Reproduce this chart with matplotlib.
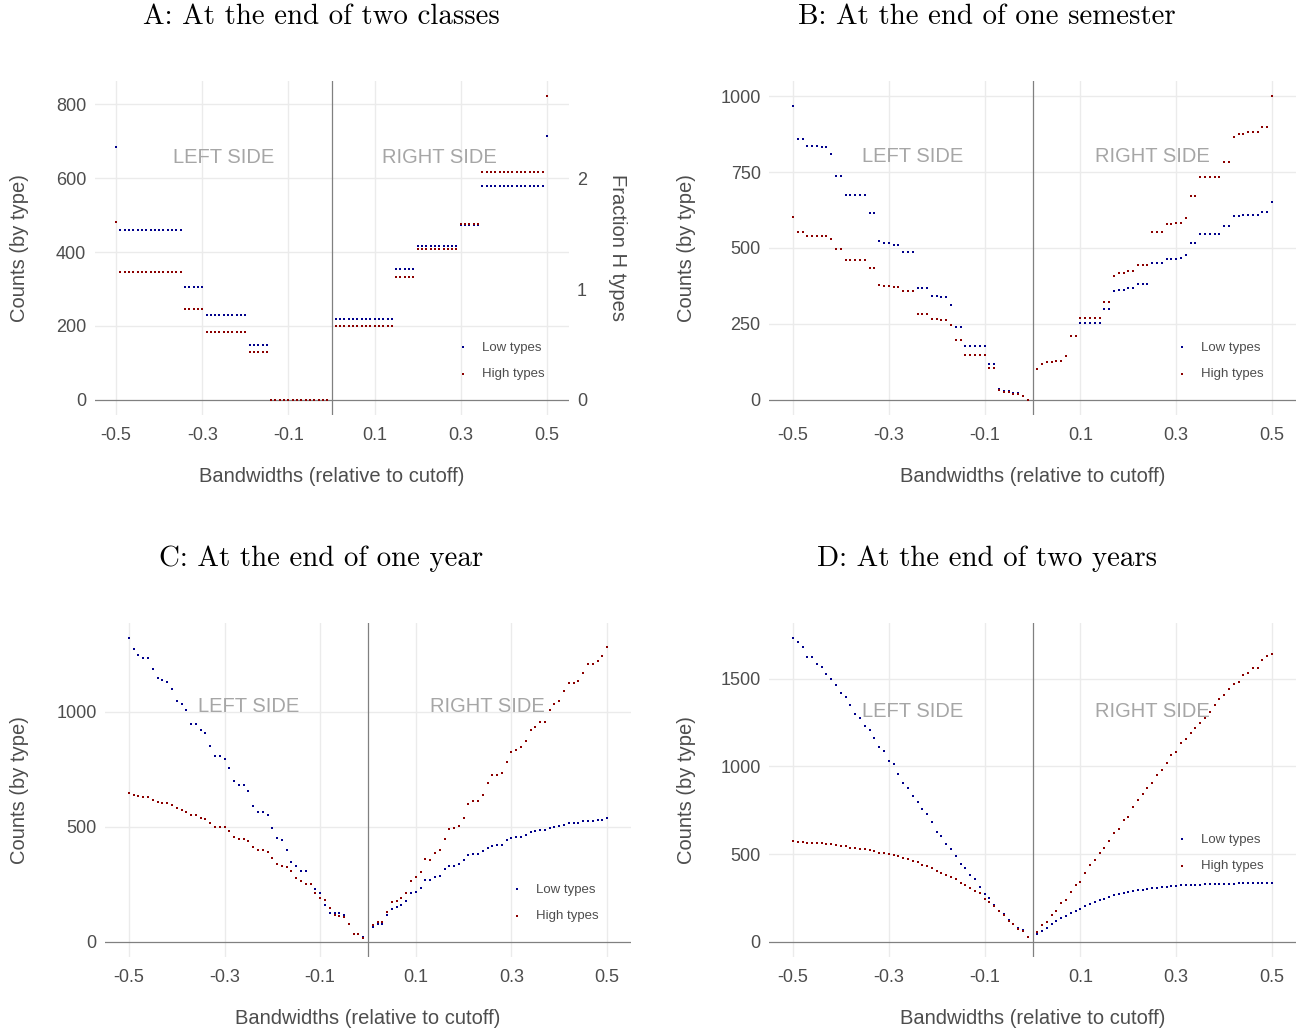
import numpy as np
import matplotlib
matplotlib.use('Agg')
import matplotlib.pyplot as plt

plt.rcParams['font.family'] = ['Liberation Sans', 'DejaVu Sans']
plt.rcParams['axes.unicode_minus'] = False

# bandwidth grid on each side of the cutoff
bw_left = np.round(np.arange(-0.50, -0.005, 0.01), 2)
bw_right = np.round(np.arange(0.01, 0.505, 0.01), 2)

# A: two classes
a_low_left = [685] + [461] * 15 + [306] * 5 + [230] * 10 + [149] * 5 + [0] * 14
a_high_left = [482] + [347] * 15 + [245] * 5 + [184] * 10 + [129] * 5 + [0] * 14
a_low_right = [219] * 14 + [355] * 5 + [416] * 10 + [473] * 5 + [579] * 15 + [713]
a_high_right = [200] * 14 + [333] * 5 + [407] * 10 + [475] * 5 + [616] * 15 + [822]

# B: one semester
b_low_left = ([967] + [859] * 2 + [836] * 3 + [832] * 2 + [810] + [737] * 2 + [675] * 5
              + [616] * 2 + [523] + [516] * 2 + [511] * 2 + [486] * 3 + [368] * 3
              + [342] * 2 + [337] * 2 + [313] + [239] * 2 + [178] * 5 + [118] * 2
              + [34] + [28] * 2 + [21] * 2 + [13] + [0])
b_high_left = ([602] + [554] * 2 + [540] * 5 + [531] + [497] * 2 + [462] * 5 + [434] * 2
               + [379] + [375] * 2 + [371] * 2 + [359] * 3 + [283] * 3 + [266] * 2
               + [263] * 2 + [247] + [196] * 2 + [146] * 5 + [106] * 2 + [32] + [26] * 2
               + [19] * 2 + [11] + [0])
b_low_right = ([101, 118, 123, 123, 127, 127, 144, 209, 209] + [252] * 5 + [298] * 2 + [359]
               + [362] * 2 + [367] * 2 + [383] * 3 + [451] * 3 + [463] * 2 + [465] + [468]
               + [476] + [516] * 2 + [545] * 5 + [571] * 2 + [606] * 2 + [608] + [609] * 3
               + [618] * 2 + [653])
b_high_right = ([101, 118, 123, 123, 127, 127, 144, 209, 209] + [270] * 5 + [322] * 2 + [408]
                + [417] * 2 + [423] * 2 + [445] * 3 + [554] * 3 + [579] * 2 + [583] * 2
                + [600] + [672] * 2 + [733] * 5 + [784] * 2 + [865] + [874] * 2 + [882] * 3
                + [899] * 2 + [1000])

# C: one year
c_low_left = [1319, 1272, 1246, 1233, 1233, 1186, 1147, 1136, 1129, 1100,
              1048, 1032, 1007, 948, 948, 921, 905, 851, 808, 808,
              796, 753, 698, 681, 681, 653, 592, 565, 565, 549,
              493, 451, 441, 400, 347, 331, 306, 306, 250, 228,
              211, 162, 126, 126, 126, 116, 78, 35, 35, 22]
c_high_left = [647, 639, 632, 630, 630, 618, 607, 605, 604, 595,
               581, 574, 562, 552, 552, 540, 535, 517, 500, 500,
               499, 483, 457, 448, 448, 439, 412, 397, 397, 390,
               363, 337, 331, 325, 309, 276, 264, 250, 250, 212,
               192, 181, 146, 117, 114, 106, 78, 35, 35, 17]
c_low_right = [66, 78, 78, 116, 142, 152, 159, 176, 210, 218,
               234, 267, 267, 280, 288, 315, 331, 331, 337, 355,
               376, 380, 380, 393, 409, 418, 419, 422, 441, 451,
               454, 454, 462, 475, 481, 484, 484, 494, 499, 501,
               507, 514, 514, 517, 523, 527, 527, 529, 530, 536]
c_high_right = [75, 87, 87, 131, 171, 179, 189, 212, 263, 282,
                303, 358, 357, 386, 400, 448, 490, 493, 504, 539,
                597, 611, 611, 636, 691, 723, 723, 734, 783, 824,
                835, 845, 871, 922, 935, 957, 957, 1007, 1033, 1046,
                1090, 1123, 1126, 1134, 1166, 1208, 1208, 1221, 1240, 1282]

# D: two years
d_low_left = [1731, 1708, 1680, 1623, 1623, 1585, 1566, 1525, 1498, 1462,
              1420, 1394, 1350, 1301, 1278, 1233, 1205, 1161, 1112, 1087,
              1032, 1013, 955, 907, 877, 833, 799, 758, 729, 682,
              627, 606, 557, 530, 487, 445, 422, 379, 360, 312,
              275, 252, 210, 174, 161, 125, 104, 76, 66, 30]
d_high_left = [574, 570, 568, 566, 564, 562, 561, 559, 555, 551,
               547, 544, 536, 534, 530, 527, 521, 515, 508, 506,
               500, 494, 487, 477, 472, 462, 455, 439, 434, 420,
               403, 394, 383, 369, 356, 333, 322, 307, 292, 278,
               244, 227, 206, 176, 155, 116, 104, 72, 64, 27]
d_low_right = [42, 64, 80, 104, 116, 136, 146, 163, 176, 186,
               203, 218, 227, 237, 244, 256, 265, 271, 277, 282,
               288, 294, 297, 301, 305, 309, 313, 314, 316, 320,
               322, 324, 324, 326, 326, 328, 328, 330, 330, 331,
               331, 331, 333, 333, 333, 335, 335, 335, 335, 335]
d_high_right = [55, 98, 114, 155, 176, 220, 241, 282, 322, 343,
                390, 438, 464, 506, 532, 574, 623, 642, 695, 714,
                769, 809, 841, 879, 907, 949, 977, 1021, 1066, 1083,
                1131, 1159, 1188, 1220, 1246, 1277, 1309, 1348, 1384, 1407,
                1439, 1470, 1483, 1521, 1532, 1563, 1563, 1604, 1627, 1640]

titles = ['A: At the end of two classes', 'B: At the end of one semester',
          'C: At the end of one year', 'D: At the end of two years']
yticks = [[0, 200, 400, 600, 800], [0, 250, 500, 750, 1000],
          [0, 500, 1000], [0, 500, 1000, 1500]]
xticks = [-0.5, -0.3, -0.1, 0.1, 0.3, 0.5]

LOW = '#00008b'
HIGH = '#8b0000'
GRID = '#ebebeb'
TXT = '#4d4d4d'

W, H = 1299, 1034
fig = plt.figure(figsize=(W / 100, H / 100), dpi=100)


def px_axes(left, right, top, bottom):
    return fig.add_axes([left / W, 1 - bottom / H, (right - left) / W, (bottom - top) / H])


# panel boxes in pixels: left, right, top, bottom
boxes = [(94.5, 568.5, 81, 415), (769, 1296, 81, 415),
         (105, 631, 623, 957), (769, 1296, 623, 957)]
title_pos = [(321, 17), (987, 17), (321, 559), (987, 559)]
ylab_x = [20, 686, 20, 686]
xlab_y = [477, 477, 1019, 1019]
side_y = [657, 800, 1022, 1312]
legend_pos = [(456, 361), (1175, 361), (510, 903), (1175, 853)]

panels = [
    (a_low_left, a_high_left, a_low_right, a_high_right),
    (b_low_left, b_high_left, b_low_right, b_high_right),
    (c_low_left, c_high_left, c_low_right, c_high_right),
    (d_low_left, d_high_left, d_low_right, d_high_right),
]

for i, (low_l, high_l, low_r, high_r) in enumerate(panels):
    left, right, top, bottom = boxes[i]
    ax = px_axes(left, right, top, bottom)

    x = np.concatenate([bw_left, bw_right])
    low = np.concatenate([low_l, low_r])
    high = np.concatenate([high_l, high_r])

    ymax = max(low.max(), high.max())
    ax.set_xlim(-0.55, 0.55)
    ax.set_ylim(-0.05 * ymax, 1.05 * ymax)

    for s in ax.spines.values():
        s.set_visible(False)
    ax.set_xticks(xticks)
    ax.set_xticklabels([f'{t:.1f}' for t in xticks])
    ax.set_yticks(yticks[i])
    ax.tick_params(length=0, labelsize=13, colors=TXT)
    ax.tick_params(axis='y', pad=6)
    ax.tick_params(axis='x', pad=9)
    for t in xticks:
        ax.axvline(t, color=GRID, lw=1, zorder=0)
    for t in yticks[i]:
        if t != 0:
            ax.axhline(t, color=GRID, lw=1, zorder=0)
    ax.axhline(0, color='#808080', lw=0.9, zorder=1)
    ax.axvline(0, color='#808080', lw=0.9, zorder=1)

    ax.text(-0.25, side_y[i], 'LEFT SIDE', ha='center', va='center',
            fontsize=14.5, color='#a6a6a6', zorder=2)
    ax.text(0.25, side_y[i], 'RIGHT SIDE', ha='center', va='center',
            fontsize=14.5, color='#a6a6a6', zorder=2)

    ax.scatter(x, low, s=4, marker='s', color=LOW, linewidths=0, zorder=3, label='Low types')
    ax.scatter(x, high, s=4, marker='s', color=HIGH, linewidths=0, zorder=4, label='High types')

    lx, ly = legend_pos[i]
    leg = ax.legend(loc='center left', bbox_to_anchor=(lx / W, 1 - ly / H),
                    bbox_transform=fig.transFigure, frameon=False, fontsize=9.5,
                    handlelength=1, handletextpad=1.0, labelspacing=1.08,
                    borderpad=0, borderaxespad=0, scatterpoints=1)
    for t in leg.get_texts():
        t.set_color(TXT)

    if i == 0:
        sec = ax.secondary_yaxis('right', functions=(lambda v: v / 300, lambda v: v * 300))
        sec.set_yticks([0, 1, 2])
        sec.tick_params(length=0, labelsize=13, colors=TXT, pad=6)
        sec.spines['right'].set_visible(False)
        fig.text(618 / W, 1 - 248 / H, 'Fraction H types', rotation=270,
                 ha='center', va='center', fontsize=14.5, color=TXT)

    tx, ty = title_pos[i]
    fig.text(tx / W, 1 - ty / H, titles[i], ha='center', va='center',
             fontsize=20.8, family='cmr10', color='black')
    fig.text(ylab_x[i] / W, 1 - (top + bottom) / 2 / H, 'Counts (by type)', rotation=90,
             ha='center', va='center', fontsize=14.5, color=TXT)
    fig.text((left + right) / 2 / W, 1 - xlab_y[i] / H, 'Bandwidths (relative to cutoff)',
             ha='center', va='center', fontsize=14.5, color=TXT)

fig.savefig('out.png', dpi=100)
